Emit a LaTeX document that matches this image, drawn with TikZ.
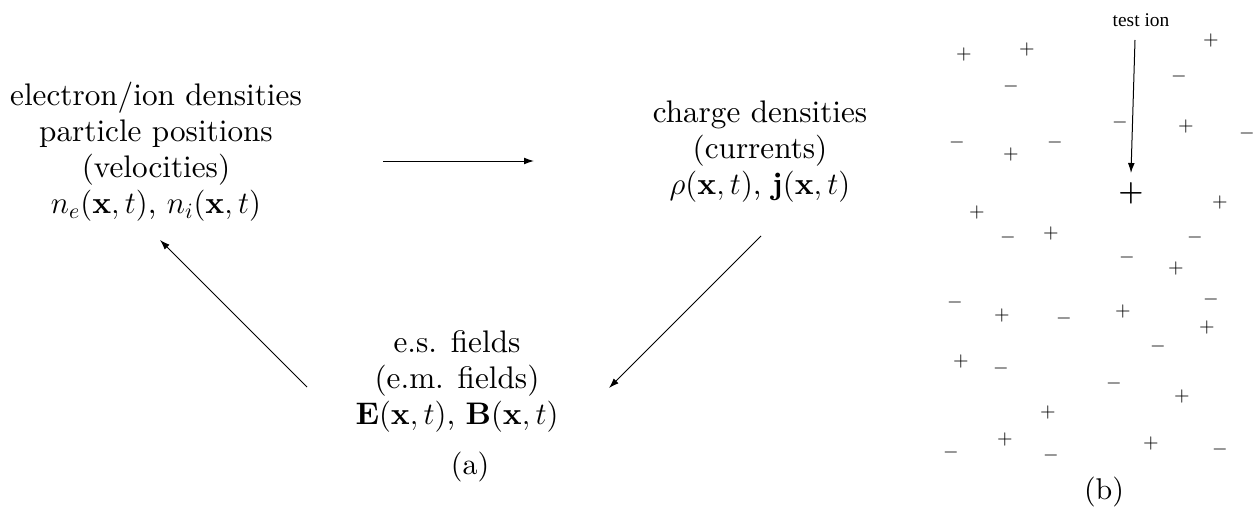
\RequirePackage{fix-cm}
\documentclass[tikz,border=0pt]{standalone}
\usepackage{fontspec}
\setmainfont{lmroman10-regular.otf}[BoldFont=lmroman10-bold.otf,ItalicFont=lmroman10-italic.otf]
\newfontfamily\timesfont{Liberation Serif}
\usetikzlibrary{arrows.meta}
\begin{document}
\begin{tikzpicture}[x=0.5pt,y=-0.5pt,
  block/.style={align=center,inner sep=0pt,font=\fontsize{15.6}{18}\selectfont},
  flow/.style={-{Latex[length=5pt,width=3.4pt]},line width=0.5pt},
  sgn/.style={inner sep=0pt,font=\normalsize},
  caption/.style={inner sep=0pt,font=\fontsize{15}{18}\selectfont}]
\useasboundingbox (0,0) rectangle (1258,508);
% (a)
\node[block] (dens) at (156,152) {electron/ion densities\\ particle positions\\ (velocities)\\ $n_e(\mathbf{x},t)$, $n_i(\mathbf{x},t)$};
\node[block] (charge) at (760,152) {charge densities\\ (currents)\\ $\rho(\mathbf{x},t)$, $\mathbf{j}(\mathbf{x},t)$};
\node[block] (fields) at (457,381) {e.s. fields\\ (e.m. fields)\\ $\mathbf{E}(\mathbf{x},t)$, $\mathbf{B}(\mathbf{x},t)$};
\node[caption] (capa) at (470,467) {(a)};
\coordinate (h1) at (383,161); \coordinate (h2) at (534,161);
\coordinate (d1) at (761,236); \coordinate (d2) at (609,388);
\coordinate (l1) at (307,387); \coordinate (l2) at (160,240);
\draw[flow] (h1) -- (h2);
\draw[flow] (d1) -- (d2);
\draw[flow] (l1) -- (l2);
% (b)
\node[inner sep=0pt,font=\timesfont\fontsize{9.7}{11}\selectfont] (tlabel) at (1141,20) {test ion};
\node[inner sep=0pt,font=\Large\boldmath] (testion) at (1131,193) {$+$};
\coordinate (t1) at (1135,40); \coordinate (t2) at (1131,173);
\draw[flow] (t1) -- (t2);
\foreach \x/\y [count=\i] in {964/55,1027/50,1011/155,977/212,1051/233,1211/41,1186/127,1220/202,1176/268,1002/315,1123/311,1207/327,961/361,1182/396,1048/412,1005/439,1151/443}
  \node[sgn] (p\i) at (\x,\y) {$+$};
\foreach \x/\y [count=\i] in {1011/87,957/143,1055/143,1008/237,1120/122,1179/77,1247/134,1195/237,1127/257,955/302,1064/318,1211/299,1158/346,1001/368,1114/383,951/452,1051/455,1220/449}
  \node[sgn] (m\i) at (\x,\y) {$-$};
\node[caption] (capb) at (1104,492) {(b)};
\end{tikzpicture}
\end{document}
